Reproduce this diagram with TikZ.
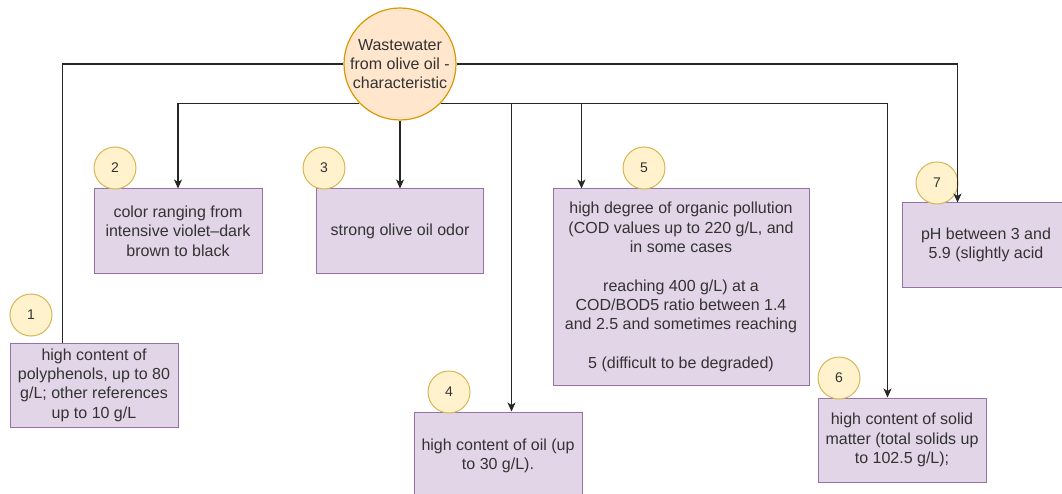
\documentclass[tikz,border=0pt]{standalone}
\usepackage{fontspec}
\setmainfont{Liberation Sans}
\usetikzlibrary{arrows.meta}
\definecolor{boxfill}{HTML}{E1D5E7}
\definecolor{boxline}{HTML}{9673A6}
\definecolor{hubfill}{HTML}{FFE6CC}
\definecolor{hubline}{HTML}{D79B00}
\definecolor{numfill}{HTML}{FFF2CC}
\definecolor{numline}{HTML}{D6B656}
\definecolor{txt}{HTML}{333333}
\begin{document}
\begin{tikzpicture}[x=1pt,y=-1pt,
  box/.style={draw=boxline,fill=boxfill,line width=1pt,inner sep=0pt,align=center,text=txt,
    font=\fontsize{16}{19.3}\selectfont,minimum width=168,minimum height=84},
  hub/.style={circle,draw=hubline,fill=hubfill,line width=1.2pt,inner sep=0pt,minimum size=112,
    align=center,text=txt,font=\fontsize{16}{19.3}\selectfont},
  num/.style={circle,draw=numline,fill=numfill,line width=1pt,inner sep=0pt,minimum size=42,
    text=txt,font=\fontsize{14}{16}\selectfont},
  conn/.style={line width=1.1pt,draw=black!85},
  arr/.style={conn,-{Stealth[length=9pt,width=8pt,inset=2.5pt]}}
]
\useasboundingbox (0,0) rectangle (1062,494);

\node[hub] (c) at (400,64) {Wastewater\\from olive oil -\\characteristic};

\node[box] (b1) at (94,385) {high content of\\polyphenols, up to 80\\g/L; other references\\up to 10 g/L};
\node[box] (b2) at (178,231) {color ranging from\\intensive violet–dark\\brown to black};
\node[box,minimum width=167] (b3) at (400,231) {strong olive oil odor};
\node[box,minimum height=88] (b4) at (498,456) {high content of oil (up\\to 30 g/L).};
\node[box,minimum width=256,minimum height=196] (b5) at (681,287) {high degree of organic pollution\\(COD values up to 220 g/L, and\\in some cases\\[19.3pt]reaching 400 g/L) at a\\COD/BOD5 ratio between 1.4\\and 2.5 and sometimes reaching\\[19.3pt]5 (difficult to be degraded)};
\node[box] (b6) at (902,440) {high content of solid\\matter (total solids up\\to 102.5 g/L);};
\node[box] (b7) at (986,245) {pH between 3 and\\5.9 (slightly acid};

\node[num] (n1) at (31,315) {1};
\node[num] (n2) at (115,168) {2};
\node[num] (n3) at (324,168) {3};
\node[num] (n4) at (449,392) {4};
\node[num] (n5) at (644,168) {5};
\node[num] (n6) at (839,378) {6};
\node[num] (n7) at (937,183) {7};

\draw[conn] (c.west) -| ([xshift=53]b1.north west);
\draw[arr] (c.east) -| ([xshift=56]b7.north west);
\draw[arr] (c.224) -| (b2.north);
\draw[arr] (c.south) -- (b3.north);
\draw[arr] (c.316) -| ([xshift=98]b4.north west);
\draw[arr] (c.316) -| ([xshift=29]b5.north west);
\draw[arr] (c.316) -| ([xshift=70]b6.north west);
\end{tikzpicture}
\end{document}
